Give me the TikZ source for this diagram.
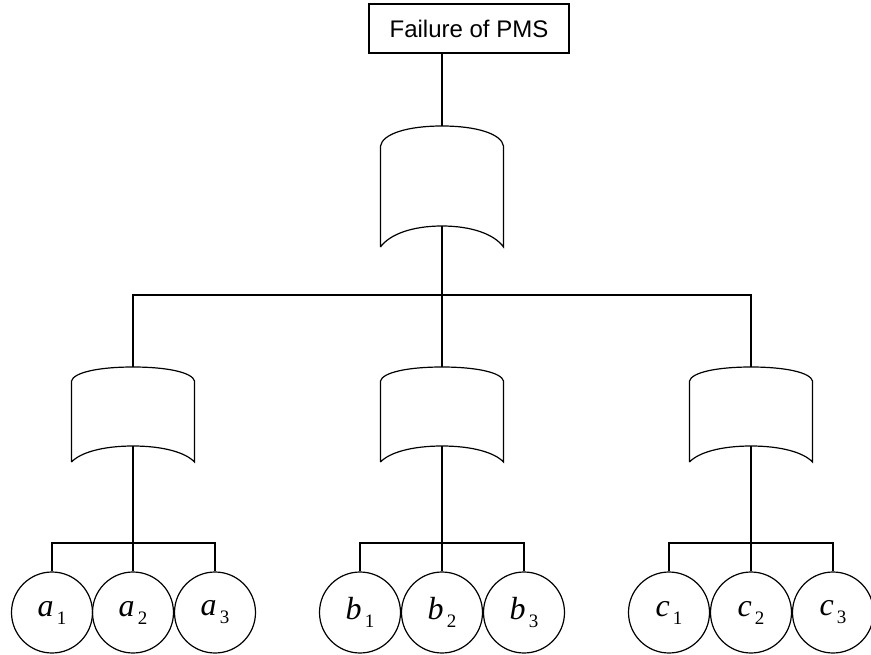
\documentclass[tikz,border=0pt]{standalone}
\usepackage{fontspec}
\setmainfont{Liberation Sans}
\newfontfamily\timesf{Liberation Serif}
\usetikzlibrary{calc}

% event label: italic letter with an upright, lowered index
\newcommand\evlabel[2]{{\timesf\fontsize{32}{32}\selectfont\textit{#1}\raisebox{-0.25em}{\fontsize{19}{19}\selectfont\,#2}}}

% OR gate: invisible box node plus its curved outline (y grows downwards);
% #1 name, #2 x, #3 top y, #4 height, #5 top arc depth, #6 bottom arc rise
\newcommand\orgate[6]{%
  \node[gatebox, minimum height=#4] (#1) at (#2, #3+#4/2) {};
  \draw[wire]
    (#1.south west) -- ($(#1.north west)+(0,#5)$)
    .. controls ($(#1.north west)+(2,0.4*#5)$) and ($(#1.north)+(-35,0)$) .. (#1.north)
    .. controls ($(#1.north)+(35,0)$) and ($(#1.north east)+(-2,0.4*#5)$) .. ($(#1.north east)+(0,#5)$)
    -- (#1.south east)
    .. controls ($(#1.south east)+(-9,-0.6*#6)$) and ($(#1.south)+(30,-#6)$) .. ($(#1.south)+(0,-#6)$)
    .. controls ($(#1.south)+(-30,-#6)$) and ($(#1.south west)+(9,-0.6*#6)$) .. (#1.south west);
  \coordinate (#1-out) at ($(#1.south)+(0,-#6)$);
}

\tikzset{
  wire/.style={line width=1.2pt, black},
  gatebox/.style={inner sep=0pt, outer sep=0pt, minimum width=123pt},
  topbox/.style={draw, line width=1.2pt, minimum width=200pt, minimum height=49pt,
    inner sep=0pt, font=\fontsize{24}{24}\selectfont},
  basic/.style={circle, draw, line width=1.2pt, minimum size=81pt, inner sep=0pt},
}

\begin{document}
\begin{tikzpicture}[x=1pt, y=-1pt]
  \useasboundingbox (0,0) rectangle (871,654);

  % top event
  \node[topbox] (top) at (469,28.5) {Failure of PMS};

  % gates
  \orgate{g0}{442}{126}{121}{20}{21}
  \orgate{ga}{133}{367}{95}{14}{16}
  \orgate{gb}{442}{367}{95}{14}{16}
  \orgate{gc}{751}{367}{95}{14}{16}

  % basic events
  \foreach \n/\x in {a1/52, a2/133, a3/215, b1/360, b2/442, b3/524, c1/669, c2/751, c3/833} {
    \node[basic] (\n) at (\x,612.5) {};
  }
  \node at (a1) {\evlabel{a}{1}};
  \node at (a2) {\evlabel{a}{2}};
  \node at (a3) {\evlabel{a}{3}};
  \node at (b1) {\evlabel{b}{1}};
  \node at (b2) {\evlabel{b}{2}};
  \node at (b3) {\evlabel{b}{3}};
  \node at (c1) {\evlabel{c}{1}};
  \node at (c2) {\evlabel{c}{2}};
  \node at (c3) {\evlabel{c}{3}};

  % connectors: top event to top gate
  \draw[wire] (top.south -| g0.north) -- (g0.north);
  % top gate to the three sub-gates
  \coordinate (bus0) at ($(g0.south)+(0,48)$);
  \draw[wire] (g0-out) -- (bus0);
  \draw[wire] (ga.north) |- (bus0) -| (gc.north);
  \draw[wire] (bus0) -- (gb.north);

  % sub-gates to basic events
  \foreach \g/\l/\m/\r in {ga/a1/a2/a3, gb/b1/b2/b3, gc/c1/c2/c3} {
    \coordinate (\g-bus) at (\g-out |- 0,543);
    \draw[wire] (\g-out) -- (\g-bus);
    \draw[wire] (\l.north) |- (\g-bus) -| (\r.north);
    \draw[wire] (\g-bus) -- (\m.north);
  }
\end{tikzpicture}
\end{document}
